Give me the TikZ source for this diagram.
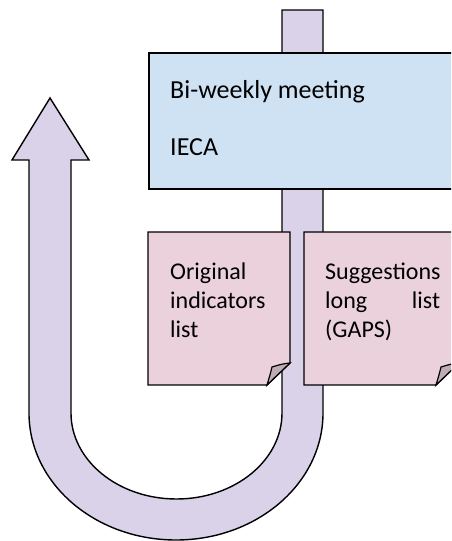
\documentclass[tikz,border=0pt]{standalone}
\usepackage{fontspec}
\setmainfont{Carlito}
\definecolor{pipefill}{RGB}{217,210,233}
\definecolor{boxfill}{RGB}{207,226,243}
\definecolor{notefill}{RGB}{234,209,220}
\definecolor{foldfill}{RGB}{192,172,181}
\tikzset{
  outline/.style={draw=black, line width=1.4pt, line join=miter},
  boxtext/.style={anchor=base west, inner sep=0pt, font=\fontsize{26}{30}\selectfont},
  notetext/.style={anchor=base west, inner sep=0pt, font=\fontsize{24}{29}\selectfont}
}
\begin{document}
\begin{tikzpicture}[x=1pt,y=1pt]
\useasboundingbox (0,0) rectangle (451,541);
\clip (0,0) rectangle (451,541);
% U-turn arrow (pipe)
\path[outline, fill=pipefill]
  (282,531) -- (323,531) -- (323,128)
  arc[start angle=0, end angle=-180, x radius=147, y radius=127]
  -- (29,381) -- (12,381) -- (50,443) -- (89,381) -- (71,381) -- (71,128)
  arc[start angle=180, end angle=360, x radius=105.5, y radius=86]
  -- cycle;
% Meeting box
\path[outline, fill=boxfill] (149,352) rectangle (475,488);
\node[boxtext] (meet) at (170,442) {Bi-weekly meeting};
\node[boxtext] (ieca) at (170,385) {IECA};
% Note 1
\path[outline, fill=notefill] (148,309) -- (290,309) -- (290,178) -- (267,156) -- (148,156) -- cycle;
\path[outline, fill=foldfill, line width=1.2pt] (290,178) .. controls (282,177) .. (272,174) .. controls (270,166) .. (267,156) -- cycle;
\node[notetext] (o1) at (170,261) {Original};
\node[notetext] (o2) at (170,232) {indicators};
\node[notetext] (o3) at (170,203) {list};
% Note 2
\path[outline, fill=notefill] (304,309) -- (459,309) -- (459,178) -- (436,156) -- (304,156) -- cycle;
\path[outline, fill=foldfill, line width=1.2pt] (459,178) .. controls (451,177) .. (441,174) .. controls (439,166) .. (436,156) -- cycle;
\node[notetext] (s1) at (325,261) {Suggestions};
\node[notetext] (s2) at (325,232) {\makebox[115pt][l]{long\hfill list}};
\node[notetext] (s3) at (325,203) {(GAPS)};
\end{tikzpicture}
\end{document}
